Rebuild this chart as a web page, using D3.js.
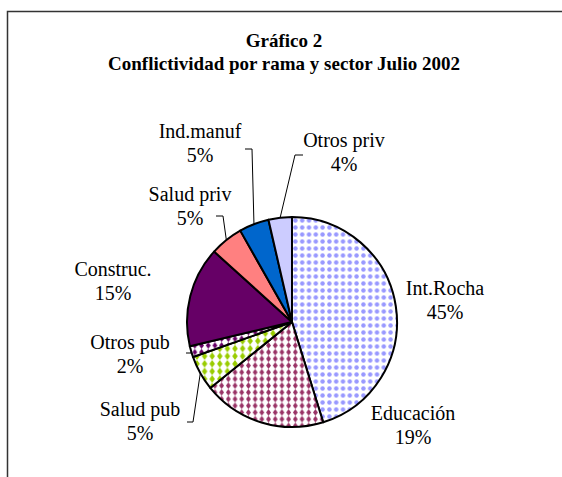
<!DOCTYPE html>
<html>
<head>
<meta charset="utf-8">
<script src="https://cdn.jsdelivr.net/npm/d3@7/dist/d3.min.js"></script>
<style>
  html, body { margin: 0; padding: 0; background: #fff; }
  svg { display: block; }
</style>
</head>
<body>
<svg id="chart" width="562" height="477"></svg>
<script>

// chart data
const categories = ['Int.Rocha', 'Educación', 'Salud pub', 'Otros pub', 'Construc.', 'Salud priv', 'Ind.manuf', 'Otros priv'];
const values = [45.2, 19.0, 5.4, 1.7, 15.4, 5.1, 4.6, 3.6];
const titleLines = ['Gráfico 2', 'Conflictividad por rama y sector Julio 2002'];

// label layout, relative to pie centre: [x, first baseline]
const labelOffsets = [[153, -27], [121, 98], [-152, 94], [-162, 27], [-179, -46], [-102, -121], [-92, -184], [52, -175]];
// leader elbows: [labelSideX, elbowX, y] relative to centre, null = no leader
const leaders = [null, null, [-105, -99, 100], [-106, -101, 31], null, [-76, -69, -106], [-47, -40, -173], [11, 3, -167]];


/**
 * @private
 * @class
 */
class PieChart {


  /**
   * @public
   * @constructor
   * @param {SVGElement} svg
   */
  constructor(svg) {

    this._svg = d3.select(svg);
    this._cx = 292;
    this._cy = 322;
    this._radius = 105;
    this._lineHeight = 24;
    this._font = 'Liberation Serif, Times New Roman, serif';
  }


  /**
   * Pattern fills.
   * @public
   * @returns {PieChart}
   */
  renderPatterns() {

    const defs = this._svg.append('defs');

    const dots = defs.append('pattern')
      .attr('id', 'p0')
      .attr('patternUnits', 'userSpaceOnUse')
      .attr('width', 6.8)
      .attr('height', 7);
    dots.append('rect').attr('width', 6.8).attr('height', 7).attr('fill', '#fff');
    dots.append('circle').attr('cx', 3.4).attr('cy', 3.5).attr('r', 2.2).attr('fill', '#9999ff');

    const diamonds = [['p1', '#993366', 6.7], ['p2', '#99cc00', 7.6], ['p3', '#660066', 6.7]];
    diamonds.forEach(function(p) {
      const s = p[2];
      const pat = defs.append('pattern')
        .attr('id', p[0])
        .attr('patternUnits', 'userSpaceOnUse')
        .attr('width', s)
        .attr('height', s);
      pat.append('rect').attr('width', s).attr('height', s).attr('fill', '#fff');
      pat.append('path')
        .attr('d', `M${s / 2},0 L${s * 0.86},${s / 2} L${s / 2},${s} L${s * 0.14},${s / 2} Z`)
        .attr('fill', p[1]);
    });

    return this;
  }


  /**
   * Frame and title.
   * @public
   * @returns {PieChart}
   */
  renderFrame() {

    this._svg.append('rect')
      .attr('x', 7.5)
      .attr('y', 11.5)
      .attr('width', 620)
      .attr('height', 520)
      .attr('fill', 'none')
      .attr('stroke', '#333')
      .attr('stroke-width', 1.5);

    this._svg.append('g')
      .selectAll('text')
      .data(titleLines)
      .enter()
      .append('text')
      .attr('x', 284)
      .attr('y', (d, i) => 47 + i * 23)
      .attr('text-anchor', 'middle')
      .attr('font-family', this._font)
      .attr('font-weight', 'bold')
      .attr('font-size', 19)
      .attr('fill', '#000')
      .text(d => d);

    return this;
  }


  /**
   * Render slices, leaders and labels.
   * @public
   * @returns {PieChart}
   */
  renderPie() {

    const fills = ['url(#p0)', 'url(#p1)', 'url(#p2)', 'url(#p3)', '#660066', '#ff8080', '#0066cc', '#ccccff'];
    const total = d3.sum(values);

    const pie = d3.pie().sort(null).value(d => d)(values);
    const arc = d3.arc().innerRadius(0).outerRadius(this._radius);

    const g = this._svg.append('g')
      .attr('transform', `translate(${this._cx},${this._cy})`);

    g.selectAll('path.slice')
      .data(pie)
      .enter()
      .append('path')
      .attr('class', 'slice')
      .attr('d', arc)
      .attr('fill', (d, i) => fills[i])
      .attr('stroke', '#000')
      .attr('stroke-width', 2)
      .attr('stroke-linejoin', 'round');

    // leader lines
    const edge = d3.arc().innerRadius(this._radius).outerRadius(this._radius);
    g.selectAll('path.leader')
      .data(pie.filter((d, i) => leaders[i]))
      .enter()
      .append('path')
      .attr('class', 'leader')
      .attr('d', function(d) {
        const l = leaders[d.index];
        const p = edge.centroid(d);
        return d3.line()([[l[0], l[2]], [l[1], l[2]], p]);
      })
      .attr('fill', 'none')
      .attr('stroke', '#000')
      .attr('stroke-width', 1);

    const labels = g.selectAll('text.label')
      .data(pie)
      .enter()
      .append('text')
      .attr('class', 'label')
      .attr('text-anchor', 'middle')
      .attr('font-family', this._font)
      .attr('font-size', 20)
      .attr('fill', '#000');

    labels.append('tspan')
      .attr('x', d => labelOffsets[d.index][0])
      .attr('y', d => labelOffsets[d.index][1])
      .text(d => categories[d.index]);

    labels.append('tspan')
      .attr('x', d => labelOffsets[d.index][0])
      .attr('y', d => labelOffsets[d.index][1] + this._lineHeight)
      .text(d => Math.round(d.value / total * 100) + '%');

    return this;
  }
}


new PieChart(document.getElementById('chart'))
  .renderPatterns()
  .renderFrame()
  .renderPie();

</script>
</body>
</html>
